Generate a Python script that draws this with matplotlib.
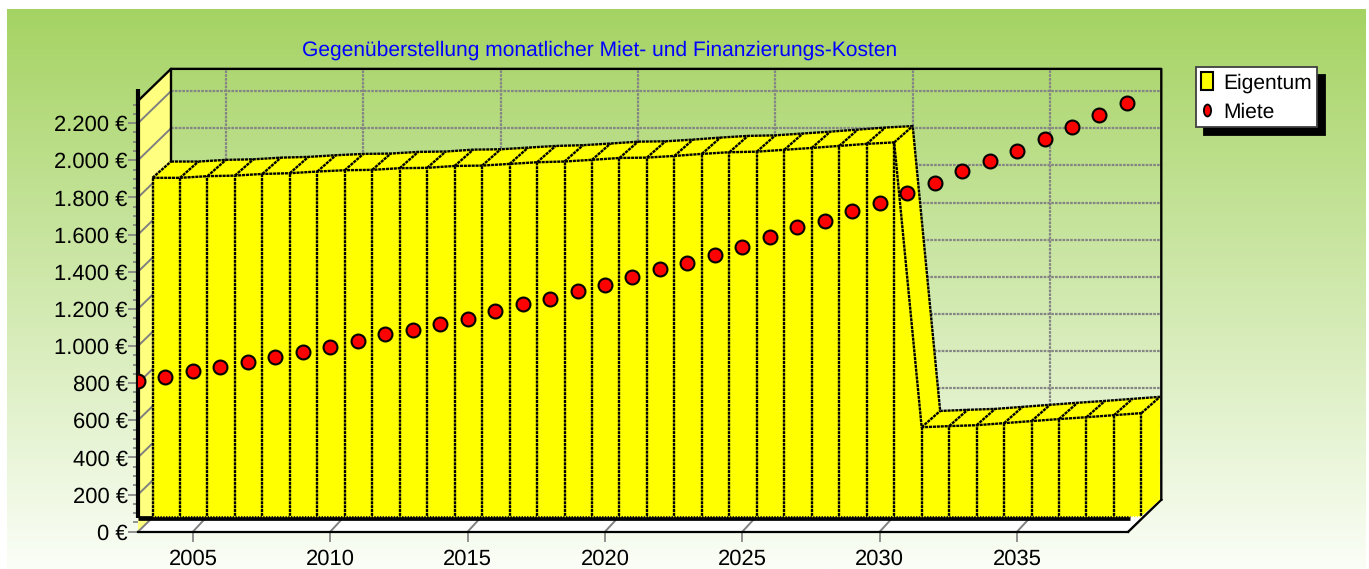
import numpy as np
import matplotlib
matplotlib.use("Agg")
from matplotlib import pyplot as plt
from matplotlib.lines import Line2D
from matplotlib.patches import Patch, Polygon
from matplotlib.path import Path
from matplotlib.ticker import FixedLocator, FuncFormatter
from matplotlib.transforms import Affine2D

plt.rcParams['font.family'] = ['Liberation Sans', 'DejaVu Sans']
plt.rcParams['text.hinting'] = 'no_hinting'
plt.rcParams['text.hinting_factor'] = 1

# Daten ----------------------------->>>>>
years = list(range(2003, 2040))
eigentum = [1821, 1821, 1830, 1833, 1842, 1846, 1855, 1862, 1864, 1873,
            1875, 1885, 1887, 1896, 1905, 1909, 1918, 1928, 1930, 1939,
            1950, 1959, 1962, 1972, 1982, 1993, 2004, 2012,
            478, 484, 489, 500, 511, 522, 532, 543, 554]
miete = [811, 835, 867, 889, 914, 941, 968, 995, 1027, 1062,
         1086, 1118, 1145, 1188, 1226, 1255, 1298, 1330, 1373, 1416,
         1449, 1492, 1535, 1587, 1641, 1675, 1729, 1772, 1826, 1880,
         1944, 1998, 2052, 2116, 2181, 2246, 2310]
y_major = list(range(0, 2400, 200))
y_minor = list(range(0, 2350, 50))
x_major = list(range(2005, 2040, 5))
title = 'Gegenüberstellung monatlicher Miet- und Finanzierungs-Kosten'

# Layout in Pixeln ----------------------------->>>>>
W, H = 1369, 569
YEAR_PX = 27.47
EURO_PX = 0.1857
LEFT_PX = 138
ZERO_PX = 531.7
TOP_EURO = 2320   # Oberkante der 3D-Wand
AXIS_EURO = 2384  # Ende der dicken Achse

# 3D-Versatz, in Achseneinheiten umgerechnet
back_dx, back_dy = 33 / YEAR_PX, 32 / EURO_PX
front_dx, front_dy = 14.5 / YEAR_PX, 15.7 / EURO_PX
first, last = years[0], years[-1]

fig = plt.figure(figsize=(W / 100, H / 100), dpi=100, facecolor='white')

# Hintergrund mit Farbverlauf
bg = fig.add_axes([0, 0, 1, 1], zorder=0)
bg.set_xlim(0, W)
bg.set_ylim(H, 0)
bg.axis('off')
top_col = np.array([165, 211, 99]) / 255
bottom_col = np.array([251, 254, 247]) / 255
t = np.linspace(0, 1, 256)[:, None, None]
grad = top_col[None, None, :] * (1 - t) + bottom_col[None, None, :] * t
bg.imshow(grad, extent=(7, 1366, H, 9), aspect='auto')

# Hauptachse
ax = fig.add_axes([LEFT_PX / W, (H - ZERO_PX) / H,
                   (last + 1 - first) * YEAR_PX / W, AXIS_EURO * EURO_PX / H],
                  zorder=1)
ax.patch.set_visible(False)
ax.set_xlim(first, last + 1)
ax.set_ylim(0, AXIS_EURO)
for name in ['top', 'right', 'left']:
    ax.spines[name].set_visible(False)
ax.spines['bottom'].set_bounds(first, last + 0.05)
ax.spines['bottom'].set_linewidth(1.6)
ax.spines['bottom'].set_zorder(3)

ax.set_xticks(x_major)
ax.yaxis.set_major_locator(FixedLocator(y_major))
ax.yaxis.set_minor_locator(FixedLocator(y_minor))
ax.yaxis.set_major_formatter(
    FuncFormatter(lambda v, pos: f'{int(v):,} €'.replace(',', '.')))
ax.tick_params(axis='both', which='major', length=7, width=1.2, color='#808080',
               labelsize=16, labelcolor='black', pad=0.5)
ax.tick_params(axis='x', which='major', pad=5.5)
ax.tick_params(axis='y', which='minor', length=3.6, width=1.2, color='#808080')

grey = dict(color='#858585', lw=1.6, linestyle=(0, (1.2, 0.5)), clip_on=False)
black_dash = dict(color='black', lw=1.7, linestyle=(0, (1.3, 0.35)), clip_on=False)
black = dict(color='black', lw=1.7, clip_on=False)

# Boden und linke Wand
ax.add_patch(Polygon([(first, 0), (last + 0.05, 0),
                      (last + 0.05 + back_dx, back_dy), (first + back_dx, back_dy)],
                     facecolor='white', edgecolor='none', clip_on=False, zorder=1))
ax.add_patch(Polygon([(first, 0), (first, TOP_EURO),
                      (first + back_dx, TOP_EURO + back_dy), (first + back_dx, back_dy)],
                     facecolor='#FFFF80', edgecolor='none', clip_on=False, zorder=1))

# Gitter auf der Rückwand
top_back = TOP_EURO + back_dy
right_back = last + 0.05 + back_dx
for v in y_major:
    ax.plot([first + back_dx, right_back], [v + back_dy] * 2, zorder=1.5, **grey)
    ax.plot([first, first + back_dx], [v, v + back_dy], color='#808080', lw=1.4,
            clip_on=False, zorder=1.5)
for yr in x_major:
    ax.plot([yr + back_dx] * 2, [back_dy, top_back], zorder=1.5, **grey)
    ax.plot([yr, yr + front_dx], [0, front_dy], color='#808080', lw=1.4,
            clip_on=False, zorder=1.5)

# Rahmen der Rückwand
ax.plot([first, first + back_dx, right_back, right_back],
        [TOP_EURO, top_back, top_back, back_dy], zorder=1.6, **black)
ax.plot([first + back_dx] * 2, [back_dy, top_back], zorder=1.6, **black)
ax.plot([last + 0.05, right_back], [0, back_dy], zorder=1.6, **black)

# Eigentum als 3D-Fläche
x_f = np.array(years) + front_dx
x_b = np.array(years) + back_dx
val = np.array(eigentum, dtype=float)
y_f = val + front_dy
y_b = val + back_dy
for i in range(len(years) - 1):
    ax.add_patch(Polygon([(x_f[i], y_f[i]), (x_f[i + 1], y_f[i + 1]),
                          (x_b[i + 1], y_b[i + 1]), (x_b[i], y_b[i])],
                         facecolor='#FFFF00', edgecolor='none',
                         clip_on=False, zorder=2))
    ax.plot([x_f[i], x_b[i]], [y_f[i], y_b[i]], zorder=2.1, **black_dash)
ax.add_patch(Polygon([(x_f[-1], front_dy), (x_f[-1], y_f[-1]),
                      (x_b[-1], y_b[-1]), (x_b[-1], back_dy)],
                     facecolor='#FFFF00', edgecolor='none', clip_on=False, zorder=2))
ax.plot([x_f[-1], x_b[-1]], [y_f[-1], y_b[-1]], zorder=2.1, **black_dash)
ax.plot(x_b, y_b, zorder=2.1, **black_dash)

# schräge Kante 2030 -> 2031 und Frontfläche
ax.fill_between(x_f, front_dy, y_f, facecolor='#FFFF00', edgecolor='none',
                clip_on=False, zorder=2.2)
ax.plot(x_f, y_f, zorder=2.3, **black_dash)
ax.vlines(x_f, front_dy, y_f, colors='black', lw=1.7, linestyles=[(0, (1.3, 0.35))],
          clip_on=False, zorder=2.3)

# dicke schwarze Achsen
ax.plot([first, last + 0.12], [76, 76], color='black', lw=3.4,
        solid_capstyle='butt', clip_on=False, zorder=2.15)
ax.plot([x_f[0], x_f[-1]], [front_dy, front_dy], color='#FFFF00', lw=1,
        linestyle=(0, (1, 1)), clip_on=False, zorder=2.3)
ax.plot([first, first], [72, AXIS_EURO], color='black', lw=3,
        solid_capstyle='butt', clip_on=False, zorder=2.4)

# Miete
ax.plot(years, miete, linestyle='none', marker='o', markersize=10,
        markerfacecolor='#FF0000', markeredgecolor='black', markeredgewidth=1.5,
        zorder=3)

# Titel und Legende
fig.text(600 / W, 1 - 50 / H, title, color='#0000FF', fontsize=15.4,
         ha='center', va='center', zorder=5)

ellipse = Path.unit_circle().transformed(Affine2D().scale(0.6, 1))
handles = [Patch(facecolor='#FFFF00', edgecolor='black', lw=1.5, label='Eigentum'),
           Line2D([], [], linestyle='none', marker=ellipse, markersize=8.6,
                  markerfacecolor='#FF0000', markeredgecolor='black',
                  markeredgewidth=1.3, label='Miete')]
leg = ax.legend(handles=handles, loc='upper left',
                bbox_to_anchor=(1196 / W, 1 - 67 / H), bbox_transform=fig.transFigure,
                borderaxespad=0, fontsize=15.2, fancybox=False, framealpha=1,
                edgecolor='#404040', handlelength=0.55, handleheight=0.9,
                handletextpad=0.5, borderpad=0.25, labelspacing=0.42,
                shadow=dict(ox=5.8, oy=-5.8, facecolor='black', edgecolor='black', alpha=1))
leg.get_frame().set_linewidth(1.3)
leg.set_zorder(6)

fig.savefig('out.png', dpi=100)
